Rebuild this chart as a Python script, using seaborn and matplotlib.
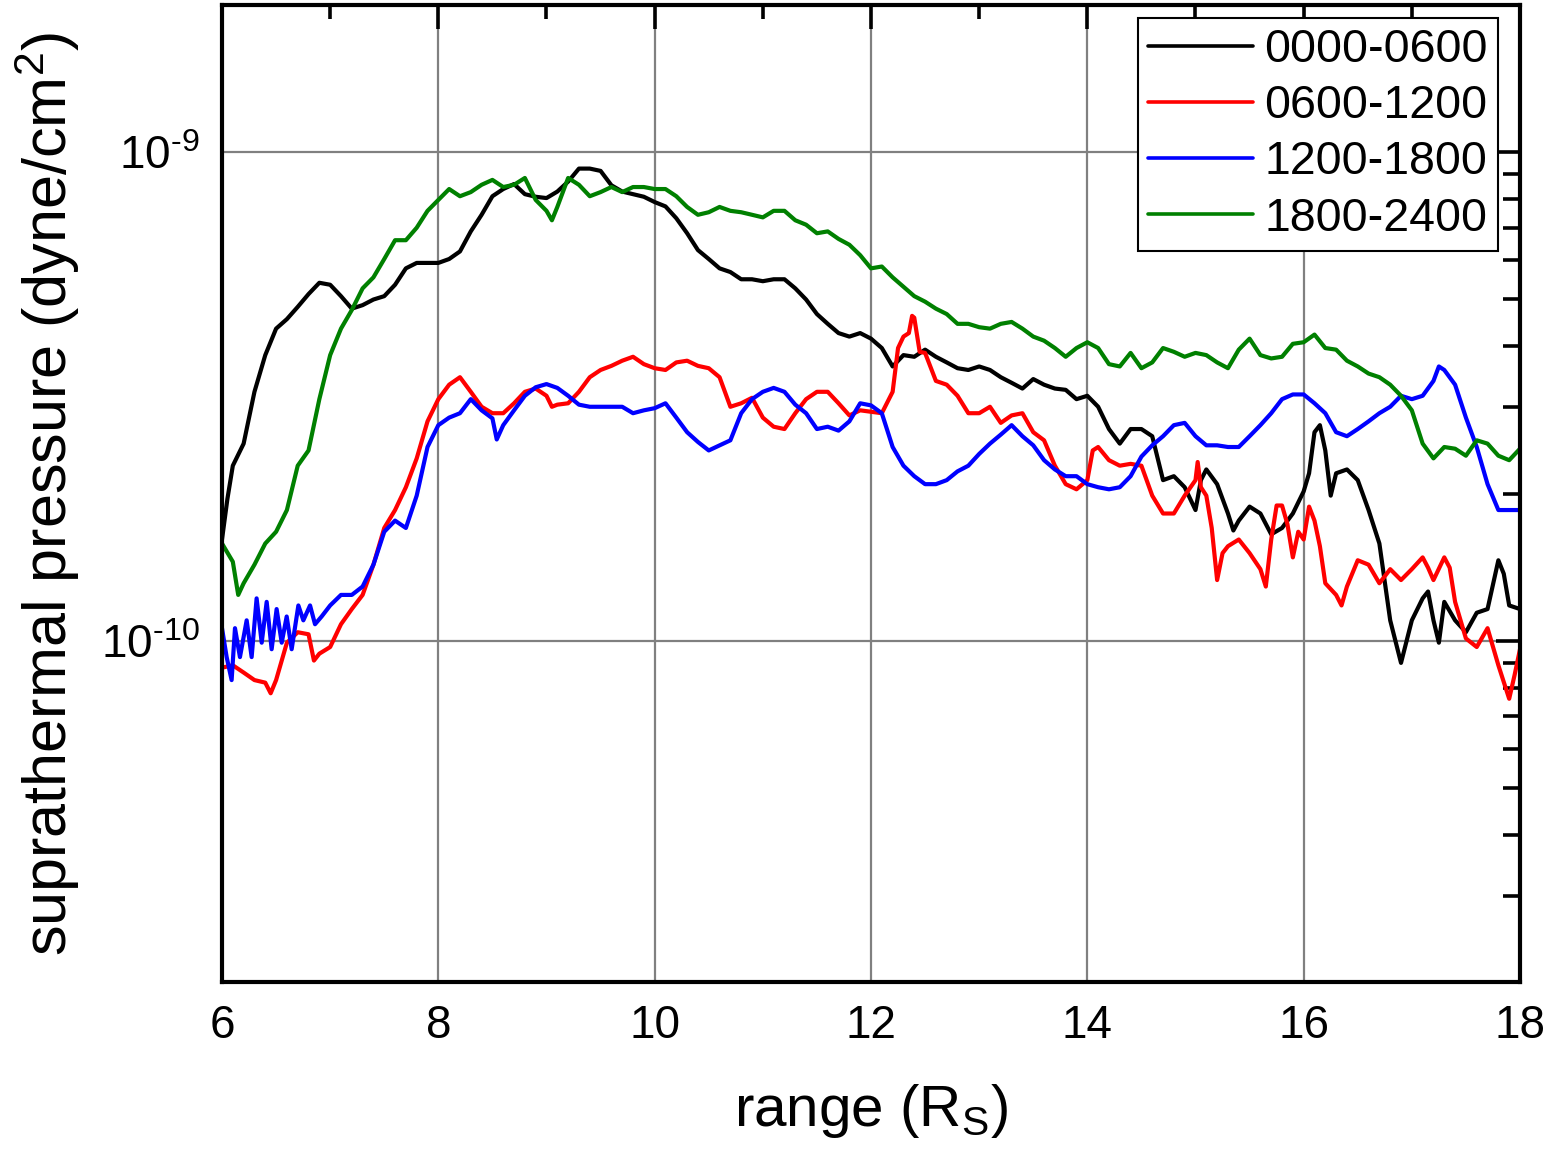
import numpy as np
import pandas as pd
import matplotlib
matplotlib.use("Agg")
import matplotlib.pyplot as plt
from matplotlib.lines import Line2D
from matplotlib.ticker import LogLocator, MultipleLocator, NullFormatter, FuncFormatter
import seaborn as sns

# Suprathermal pressure (units of 1e-10 dyne/cm^2) versus radial range (R_S),
# one profile per local-time sector.
periods = ["0000-0600", "0600-1200", "1200-1800", "1800-2400"]
colors = ["#000000", "#ff0000", "#0000ff", "#008000"]

range_0000 = [6.0, 6.05, 6.1, 6.2, 6.3, 6.4, 6.5, 6.6, 6.7, 6.8, 6.9, 7.0, 7.1, 7.2, 7.3, 7.4,
              7.5, 7.6, 7.7, 7.8, 7.9, 8.0, 8.1, 8.2, 8.3, 8.4, 8.5, 8.6, 8.7, 8.8, 8.9, 9.0,
              9.1, 9.2, 9.3, 9.4, 9.5, 9.6, 9.7, 9.8, 9.9, 10.0, 10.1, 10.2, 10.3, 10.4, 10.5,
              10.6, 10.7, 10.8, 10.9, 11.0, 11.1, 11.2, 11.3, 11.4, 11.5, 11.6, 11.7, 11.8,
              11.9, 12.0, 12.1, 12.2, 12.3, 12.4, 12.5, 12.6, 12.7, 12.8, 12.9, 13.0, 13.1,
              13.2, 13.3, 13.4, 13.5, 13.6, 13.7, 13.8, 13.9, 14.0, 14.1, 14.2, 14.3, 14.4,
              14.5, 14.6, 14.7, 14.8, 14.9, 15.0, 15.05, 15.1, 15.2, 15.3, 15.35, 15.4, 15.5,
              15.6, 15.7, 15.8, 15.9, 16.0, 16.05, 16.1, 16.15, 16.2, 16.25, 16.3, 16.4, 16.5,
              16.6, 16.7, 16.8, 16.9, 17.0, 17.1, 17.15, 17.2, 17.25, 17.3, 17.4, 17.5, 17.6,
              17.7, 17.8, 17.85, 17.9, 18.0]
p_0000 = [1.61, 1.95, 2.28, 2.53, 3.23, 3.84, 4.35, 4.55, 4.82, 5.12, 5.40, 5.35, 5.07, 4.78,
          4.86, 4.99, 5.07, 5.35, 5.78, 5.93, 5.93, 5.93, 6.04, 6.26, 6.88, 7.44, 8.12, 8.40,
          8.60, 8.20, 8.10, 8.05, 8.30, 8.70, 9.25, 9.25, 9.15, 8.55, 8.30, 8.20, 8.10, 7.90,
          7.74, 7.32, 6.82, 6.30, 6.04, 5.78, 5.68, 5.49, 5.49, 5.44, 5.49, 5.49, 5.26, 4.99,
          4.66, 4.45, 4.26, 4.19, 4.26, 4.15, 3.97, 3.64, 3.84, 3.81, 3.94, 3.81, 3.71, 3.61,
          3.58, 3.64, 3.58, 3.46, 3.37, 3.28, 3.43, 3.34, 3.28, 3.26, 3.12, 3.17, 3.01, 2.71,
          2.53, 2.71, 2.71, 2.62, 2.13, 2.17, 2.06, 1.85, 2.13, 2.24, 2.09, 1.82, 1.68, 1.76,
          1.88, 1.82, 1.65, 1.70, 1.82, 2.02, 2.20, 2.67, 2.76, 2.45, 1.98, 2.20, 2.24, 2.13,
          1.85, 1.58, 1.10, 0.90, 1.10, 1.22, 1.26, 1.10, 0.99, 1.20, 1.10, 1.04, 1.14, 1.16,
          1.46, 1.37, 1.18, 1.16]

range_0600 = [6.0, 6.1, 6.2, 6.3, 6.4, 6.45, 6.5, 6.6, 6.7, 6.8, 6.85, 6.9, 7.0, 7.1, 7.2,
              7.3, 7.4, 7.5, 7.6, 7.7, 7.8, 7.9, 8.0, 8.1, 8.2, 8.3, 8.4, 8.5, 8.6, 8.7, 8.8,
              8.9, 9.0, 9.05, 9.1, 9.2, 9.3, 9.4, 9.5, 9.6, 9.7, 9.8, 9.9, 10.0, 10.1, 10.2,
              10.3, 10.4, 10.5, 10.6, 10.7, 10.8, 10.9, 11.0, 11.1, 11.2, 11.3, 11.4, 11.5,
              11.6, 11.7, 11.8, 11.9, 12.0, 12.1, 12.2, 12.25, 12.3, 12.35, 12.38, 12.4, 12.45,
              12.5, 12.6, 12.7, 12.8, 12.9, 13.0, 13.1, 13.2, 13.3, 13.4, 13.5, 13.6, 13.7,
              13.8, 13.9, 14.0, 14.05, 14.1, 14.2, 14.3, 14.4, 14.5, 14.6, 14.7, 14.8, 14.9,
              15.0, 15.02, 15.05, 15.1, 15.15, 15.2, 15.25, 15.3, 15.4, 15.5, 15.6, 15.65,
              15.7, 15.75, 15.8, 15.85, 15.9, 15.95, 16.0, 16.05, 16.1, 16.15, 16.2, 16.3,
              16.35, 16.4, 16.5, 16.6, 16.7, 16.8, 16.9, 17.0, 17.1, 17.15, 17.2, 17.3, 17.35,
              17.4, 17.5, 17.6, 17.7, 17.8, 17.9, 17.95, 18.0]
p_0600 = [0.88, 0.89, 0.86, 0.83, 0.82, 0.78, 0.83, 0.99, 1.04, 1.03, 0.91, 0.94, 0.97, 1.08,
          1.16, 1.24, 1.43, 1.70, 1.85, 2.06, 2.36, 2.81, 3.12, 3.34, 3.46, 3.23, 3.01, 2.92,
          2.92, 3.06, 3.23, 3.28, 3.17, 3.01, 3.04, 3.06, 3.23, 3.46, 3.58, 3.65, 3.74, 3.81,
          3.68, 3.61, 3.58, 3.71, 3.74, 3.65, 3.61, 3.46, 3.01, 3.06, 3.14, 2.86, 2.74, 2.71,
          2.92, 3.12, 3.23, 3.23, 3.06, 2.89, 2.96, 2.94, 2.92, 3.23, 3.97, 4.19, 4.26, 4.62,
          4.58, 3.90, 3.88, 3.40, 3.34, 3.17, 2.92, 2.92, 3.01, 2.79, 2.89, 2.92, 2.67, 2.57,
          2.28, 2.09, 2.04, 2.13, 2.45, 2.49, 2.34, 2.28, 2.30, 2.28, 1.98, 1.82, 1.82, 1.98,
          2.13, 2.32, 2.06, 1.98, 1.70, 1.33, 1.51, 1.56, 1.61, 1.51, 1.40, 1.29, 1.61, 1.89,
          1.89, 1.73, 1.48, 1.67, 1.61, 1.88, 1.76, 1.56, 1.31, 1.24, 1.18, 1.29, 1.46, 1.43,
          1.31, 1.40, 1.33, 1.40, 1.48, 1.41, 1.33, 1.48, 1.41, 1.20, 1.01, 0.97, 1.06, 0.89,
          0.76, 0.85, 0.96]

range_1200 = [6.0, 6.043, 6.089, 6.12, 6.166, 6.228, 6.274, 6.32, 6.367, 6.413, 6.459, 6.505,
              6.552, 6.598, 6.644, 6.706, 6.752, 6.814, 6.86, 6.921, 7.0, 7.1, 7.2, 7.3, 7.4,
              7.5, 7.6, 7.7, 7.8, 7.9, 8.0, 8.1, 8.2, 8.3, 8.4, 8.5, 8.54, 8.6, 8.7, 8.8, 8.9,
              9.0, 9.1, 9.2, 9.3, 9.4, 9.5, 9.6, 9.7, 9.8, 9.9, 10.0, 10.1, 10.2, 10.3, 10.4,
              10.5, 10.6, 10.7, 10.8, 10.9, 11.0, 11.1, 11.2, 11.3, 11.4, 11.5, 11.6, 11.7,
              11.8, 11.9, 12.0, 12.1, 12.2, 12.3, 12.4, 12.5, 12.6, 12.7, 12.8, 12.9, 13.0,
              13.1, 13.2, 13.3, 13.4, 13.5, 13.6, 13.7, 13.8, 13.9, 14.0, 14.1, 14.2, 14.3,
              14.4, 14.5, 14.6, 14.7, 14.8, 14.9, 15.0, 15.1, 15.2, 15.3, 15.4, 15.5, 15.6,
              15.7, 15.8, 15.9, 16.0, 16.1, 16.2, 16.3, 16.4, 16.5, 16.6, 16.7, 16.8, 16.9,
              17.0, 17.1, 17.2, 17.25, 17.3, 17.4, 17.5, 17.6, 17.7, 17.8, 17.9, 18.0]
p_1200 = [1.06, 0.925, 0.83, 1.06, 0.925, 1.10, 0.925, 1.22, 0.99, 1.20, 0.96, 1.16, 0.99,
          1.12, 0.96, 1.18, 1.10, 1.18, 1.08, 1.12, 1.18, 1.24, 1.24, 1.29, 1.43, 1.67, 1.76,
          1.70, 1.98, 2.49, 2.76, 2.86, 2.92, 3.12, 2.96, 2.85, 2.58, 2.76, 2.96, 3.17, 3.30,
          3.35, 3.29, 3.17, 3.04, 3.01, 3.01, 3.01, 3.01, 2.92, 2.96, 2.99, 3.06, 2.86, 2.67,
          2.55, 2.45, 2.51, 2.57, 2.92, 3.12, 3.23, 3.29, 3.23, 3.04, 2.92, 2.71, 2.74, 2.69,
          2.81, 3.06, 3.03, 2.92, 2.49, 2.28, 2.17, 2.09, 2.09, 2.13, 2.22, 2.28, 2.41, 2.53,
          2.64, 2.76, 2.62, 2.51, 2.34, 2.24, 2.17, 2.17, 2.09, 2.06, 2.04, 2.06, 2.17, 2.38,
          2.51, 2.62, 2.76, 2.79, 2.62, 2.51, 2.51, 2.49, 2.49, 2.62, 2.76, 2.92, 3.12, 3.19,
          3.19, 3.06, 2.92, 2.67, 2.62, 2.71, 2.81, 2.92, 3.01, 3.17, 3.12, 3.17, 3.40, 3.64,
          3.58, 3.34, 2.86, 2.49, 2.09, 1.85, 1.85, 1.85]

range_1800 = [6.0, 6.1, 6.15, 6.2, 6.3, 6.4, 6.5, 6.6, 6.7, 6.8, 6.9, 7.0, 7.1, 7.2, 7.3, 7.4,
              7.5, 7.6, 7.7, 7.8, 7.9, 8.0, 8.1, 8.2, 8.3, 8.4, 8.5, 8.6, 8.7, 8.8, 8.9, 9.0,
              9.05, 9.1, 9.2, 9.3, 9.4, 9.5, 9.6, 9.7, 9.8, 9.9, 10.0, 10.1, 10.2, 10.3, 10.4,
              10.5, 10.6, 10.7, 10.8, 10.9, 11.0, 11.1, 11.2, 11.3, 11.4, 11.5, 11.6, 11.7,
              11.8, 11.9, 12.0, 12.1, 12.2, 12.3, 12.4, 12.5, 12.6, 12.7, 12.8, 12.9, 13.0,
              13.1, 13.2, 13.3, 13.4, 13.5, 13.6, 13.7, 13.8, 13.9, 14.0, 14.1, 14.2, 14.3,
              14.4, 14.5, 14.6, 14.7, 14.8, 14.9, 15.0, 15.1, 15.2, 15.3, 15.4, 15.5, 15.6,
              15.7, 15.8, 15.9, 16.0, 16.1, 16.2, 16.3, 16.4, 16.5, 16.6, 16.7, 16.8, 16.9,
              17.0, 17.1, 17.2, 17.3, 17.4, 17.5, 17.6, 17.7, 17.8, 17.9, 18.0]
p_1800 = [1.58, 1.45, 1.24, 1.31, 1.43, 1.58, 1.67, 1.85, 2.28, 2.45, 3.12, 3.84, 4.35, 4.75,
          5.26, 5.54, 6.04, 6.60, 6.60, 7.00, 7.58, 7.98, 8.40, 8.12, 8.28, 8.57, 8.77, 8.48,
          8.57, 8.85, 7.98, 7.58, 7.25, 7.72, 8.85, 8.57, 8.12, 8.28, 8.48, 8.28, 8.48, 8.48,
          8.40, 8.40, 8.12, 7.72, 7.44, 7.53, 7.72, 7.58, 7.53, 7.44, 7.35, 7.58, 7.58, 7.25,
          7.10, 6.82, 6.88, 6.64, 6.46, 6.15, 5.78, 5.83, 5.54, 5.30, 5.07, 4.94, 4.78, 4.66,
          4.45, 4.45, 4.38, 4.35, 4.45, 4.49, 4.35, 4.19, 4.11, 3.97, 3.81, 3.97, 4.08, 3.97,
          3.68, 3.64, 3.88, 3.61, 3.71, 3.97, 3.90, 3.81, 3.88, 3.84, 3.71, 3.61, 3.94, 4.15,
          3.84, 3.78, 3.81, 4.05, 4.08, 4.23, 3.97, 3.94, 3.74, 3.64, 3.52, 3.46, 3.34, 3.17,
          2.96, 2.53, 2.36, 2.49, 2.47, 2.39, 2.57, 2.53, 2.39, 2.34, 2.47]

ranges = [range_0000, range_0600, range_1200, range_1800]
pressures = [p_0000, p_0600, p_1200, p_1800]

frames = []
for name, xs, ps in zip(periods, ranges, pressures):
    frames.append(pd.DataFrame({"range": xs,
                                "pressure": np.asarray(ps) * 1e-10,
                                "period": name}))
df = pd.concat(frames, ignore_index=True)

sns.set_style("white")
plt.rcParams["font.family"] = ["Liberation Sans", "DejaVu Sans"]
plt.rcParams["mathtext.fontset"] = "custom"
plt.rcParams["mathtext.rm"] = "Liberation Sans"
plt.rcParams["mathtext.it"] = "Liberation Sans:italic"
plt.rcParams["mathtext.default"] = "regular"
for key in ("text.color", "axes.labelcolor", "xtick.color", "ytick.color"):
    plt.rcParams[key] = "black"

fig = plt.figure(figsize=(15.44, 11.5), dpi=100)
ax = fig.add_axes([222 / 1544, 1 - 982 / 1150, 1298 / 1544, 977 / 1150])

sns.lineplot(data=df, x="range", y="pressure", hue="period",
             hue_order=periods, palette=colors, estimator=None, sort=True,
             linewidth=3.0, legend=False, ax=ax)

ax.set_yscale("log")
ax.set_xlim(6, 18)
ax.set_ylim(2e-11, 2e-9)
ax.xaxis.set_major_locator(MultipleLocator(2))
ax.xaxis.set_minor_locator(MultipleLocator(1))
ax.yaxis.set_major_locator(LogLocator(base=10, numticks=10))
ax.yaxis.set_minor_locator(LogLocator(base=10, subs=np.arange(2, 10), numticks=20))
ax.yaxis.set_minor_formatter(NullFormatter())
ax.yaxis.set_major_formatter(
    FuncFormatter(lambda v, pos: r"$10^{\text{-}%d}$" % round(-np.log10(v))))

ax.grid(True, which="major", color="#808080", linewidth=1.6)
ax.set_axisbelow(True)

for side in ax.spines.values():
    side.set_linewidth(3.0)
    side.set_color("black")

ax.tick_params(which="both", direction="in", top=True, right=True,
               width=2.6, color="black", labelsize=33, pad=16)
ax.tick_params(which="major", length=17)
ax.tick_params(axis="x", which="minor", length=10)
ax.tick_params(axis="y", which="minor", length=12)

ax.set_xlabel("range (R$_S$)", fontsize=42, labelpad=24)
ax.set_ylabel("suprathermal pressure (dyne/cm$^2$)", fontsize=44, labelpad=14)

handles = [Line2D([0], [0], color=c, linewidth=2.6) for c in colors]
leg = ax.legend(handles, periods, loc="upper right",
                bbox_to_anchor=(1498 / 1544, 1 - 18 / 1150),
                bbox_transform=fig.transFigure, borderaxespad=0,
                fontsize=33.5, handlelength=2.25, handletextpad=0.25,
                labelspacing=0.26, borderpad=0.22, fancybox=False,
                framealpha=1, edgecolor="black")
leg.get_frame().set_linewidth(1.5)

fig.savefig("out.png", dpi=100, facecolor="white")
